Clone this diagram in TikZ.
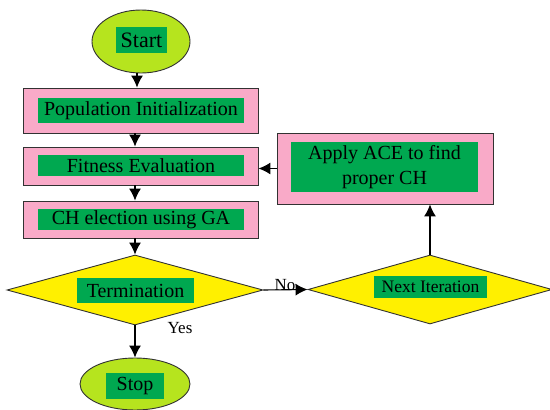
\documentclass[tikz,border=0pt]{standalone}
\usepackage{fontspec}
\setmainfont{Liberation Serif}
\usetikzlibrary{shapes.geometric,arrows.meta}
\definecolor{pinkbox}{RGB}{249,170,200}
\definecolor{greenbox}{RGB}{0,168,80}
\definecolor{limeell}{RGB}{182,228,30}
\definecolor{yellowdia}{RGB}{255,240,0}
\definecolor{edgegray}{RGB}{50,50,50}
\begin{document}
\begin{tikzpicture}[x=1pt,y=-1pt,
  outerbox/.style={rectangle,draw=edgegray,line width=0.9pt,fill=pinkbox,inner sep=0pt},
  greentag/.style={rectangle,fill=greenbox,inner sep=0pt,text=black,align=center,font=\fontsize{20}{25}\selectfont},
  oval/.style={ellipse,draw=edgegray,line width=0.9pt,fill=limeell,inner sep=0pt},
  decision/.style={diamond,draw=edgegray,line width=0.9pt,fill=yellowdia,inner sep=0pt},
  arr/.style={-{Latex[length=12pt,width=12pt]},line width=1.1pt,draw=black},
  edgetext/.style={font=\fontsize{17}{20}\selectfont,inner sep=0pt}
]
\useasboundingbox (0,0) rectangle (550,410);

% start
\node[oval,minimum width=98pt,minimum height=63pt] (start) at (141,41.5) {};
\node[greentag,minimum width=51pt,minimum height=26pt,font=\fontsize{22}{26}\selectfont] (starttag) at (141.5,40) {Start};

% rectangles
\node[outerbox,minimum width=235pt,minimum height=45pt] (pop) at (140.5,110.5) {};
\node[greentag,minimum width=206pt,minimum height=25pt] (poptag) at (141,110.5) {Population Initialization};

\node[outerbox,minimum width=235pt,minimum height=38pt] (fit) at (140.5,166) {};
\node[greentag,minimum width=206pt,minimum height=21pt] (fittag) at (141,165.5) {Fitness Evaluation};

\node[outerbox,minimum width=235pt,minimum height=37pt] (ch) at (140.5,219.5) {};
\node[greentag,minimum width=206pt,minimum height=21pt] (chtag) at (141,219.5) {CH election using GA};

\node[outerbox,minimum width=216pt,minimum height=71pt] (ace) at (385,168.5) {};
\node[greentag,minimum width=187pt,minimum height=50pt] (acetag) at (384.5,167) {Apply ACE to find\\proper CH};

% decisions
\node[decision,minimum width=256pt,minimum height=70pt] (term) at (135,290) {};
\node[greentag,minimum width=117pt,minimum height=25pt] (termtag) at (135.5,290.5) {Termination};

\node[decision,minimum width=244pt,minimum height=69pt] (next) at (430,289.5) {};
\node[greentag,minimum width=113pt,minimum height=22pt,font=\fontsize{17.5}{21}\selectfont] (nexttag) at (430.5,287) {Next Iteration};

% stop
\node[oval,minimum width=110pt,minimum height=52pt] (stop) at (135,384) {};
\node[greentag,minimum width=58pt,minimum height=26pt] (stoptag) at (135,386) {Stop};

% connectors
\draw[arr] ([xshift=-4pt]start.south) -- ([xshift=-4pt]start.south |- pop.north);
\draw[arr] (pop.south -| term.north) -- (fit.north -| term.north);
\draw[arr] (fit.south -| term.north) -- (ch.north -| term.north);
\draw[arr] (ch.south -| term.north) -- (term.north);
\draw[arr] (term.south) -- (stop.north);
\draw[arr] (term.east) -- (next.west);
\draw[arr] (next.north) -- (next.north |- ace.south);
\draw[arr] (ace.west) -- (ace.west -| fit.east);

% labels
\node[edgetext,anchor=base] (nolbl) at (285,290) {No};
\node[edgetext,anchor=base] (yeslbl) at (180,333) {Yes};
\end{tikzpicture}
\end{document}
